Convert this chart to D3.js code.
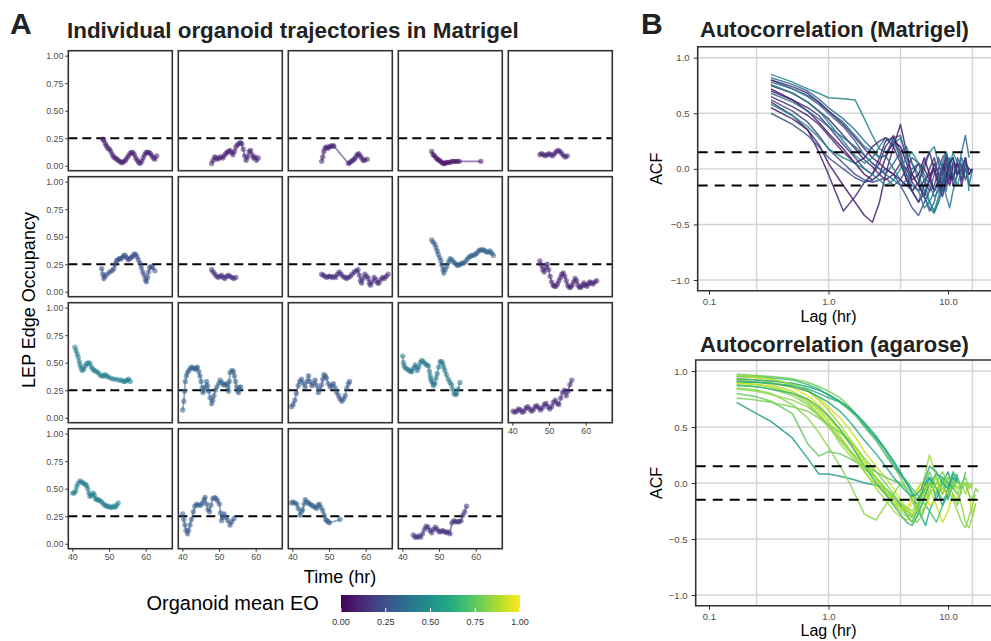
<!DOCTYPE html>
<html>
<head>
<meta charset="utf-8">
<script src="https://cdn.jsdelivr.net/npm/d3@7"></script>
<style>
  body { margin: 0; background: #fff; }
  svg { display: block; }
</style>
</head>
<body>
<svg id="chart" width="991" height="641"></svg>
<script>
// ---- panel A data: edge occupancy per organoid, [time (hr), EO]
const org01 = [[48.3,.24],[48.6,.23],[49.0,.20],[49.3,.18],[49.7,.16],[50.1,.15],[50.5,.13],[50.9,.10],[51.3,.08],[51.7,.07],[52.1,.06],[52.5,.05],[52.9,.04],[53.3,.03],[53.7,.03],[54.1,.04],[54.5,.05],[54.9,.07],[55.3,.09],[55.7,.11],[56.1,.12],[56.5,.12],[56.9,.10],[57.3,.07],[57.7,.05],[58.1,.03],[58.5,.02],[58.9,.04],[59.3,.07],[59.7,.10],[60.1,.12],[60.5,.12],[60.9,.12],[61.3,.11],[61.7,.09],[62.1,.07],[62.5,.06],[63.0,.09]]
const org02 = [[48.0,.02],[48.4,.05],[48.8,.08],[49.2,.07],[49.6,.06],[50.0,.07],[50.5,.08],[51.0,.07],[51.4,.09],[51.8,.11],[52.2,.12],[52.6,.13],[53.0,.14],[53.4,.12],[53.8,.10],[54.2,.13],[54.6,.17],[55.0,.19],[55.4,.20],[55.8,.21],[56.2,.20],[56.6,.15],[57.0,.09],[57.4,.05],[57.8,.08],[58.2,.13],[58.6,.14],[59.0,.10],[59.4,.07],[59.8,.08],[60.2,.05],[60.7,.07]]
const org03 = [[48.0,.04],[48.3,.08],[48.6,.13],[48.9,.16],[49.3,.17],[49.7,.16],[50.1,.17],[50.5,.18],[51.0,.18],[51.3,.18],[55.3,.02],[55.7,.03],[56.1,.04],[56.5,.05],[56.9,.06],[57.3,.08],[57.7,.10],[58.1,.11],[58.5,.09],[58.9,.07],[59.3,.05],[59.7,.05],[60.4,.06]]
const org04 = [[48.0,.13],[48.4,.10],[48.8,.09],[49.2,.07],[49.6,.06],[50.0,.05],[50.4,.04],[50.8,.03],[51.2,.02],[51.6,.02],[52.0,.03],[52.5,.03],[53.0,.03],[53.5,.04],[54.0,.04],[54.5,.04],[55.0,.04],[55.5,.04],[61.4,.04]]
const org05 = [[47.5,.10],[48.0,.11],[48.5,.10],[49.0,.09],[49.5,.10],[50.0,.11],[50.5,.10],[51.0,.09],[51.5,.11],[52.0,.13],[52.5,.14],[53.0,.13],[53.5,.11],[54.0,.09],[54.5,.08],[55.0,.09]]
const org06 = [[48.0,.21],[48.3,.16],[48.6,.12],[48.9,.14],[49.5,.16],[50.2,.18],[50.8,.19],[51.3,.21],[51.7,.25],[52.0,.28],[52.4,.29],[52.8,.30],[53.2,.30],[53.6,.31],[54.0,.33],[54.4,.33],[54.8,.31],[55.2,.29],[55.6,.30],[56.0,.31],[56.4,.32],[56.8,.34],[57.2,.34],[57.6,.32],[58.0,.29],[58.4,.26],[58.8,.22],[59.2,.18],[59.6,.15],[59.9,.11],[60.2,.09],[60.5,.13],[60.8,.18],[61.1,.22],[61.5,.23],[61.9,.22],[62.5,.19]]
const org07 = [[48.0,.20],[48.4,.18],[48.9,.16],[49.3,.14],[49.8,.13],[50.3,.14],[50.7,.15],[51.2,.13],[51.6,.12],[52.1,.14],[52.5,.15],[53.0,.14],[53.5,.13],[54.0,.12],[54.6,.13]]
const org08 = [[48.0,.16],[48.4,.15],[48.9,.14],[49.4,.13],[49.9,.14],[50.3,.14],[50.8,.13],[51.3,.14],[51.8,.13],[52.3,.16],[52.8,.18],[53.3,.16],[53.8,.14],[54.3,.13],[54.8,.12],[55.3,.13],[55.8,.14],[56.3,.16],[56.9,.18],[57.4,.19],[57.9,.20],[58.3,.15],[58.6,.10],[58.9,.08],[59.3,.12],[59.8,.16],[60.3,.14],[60.7,.12],[61.0,.08],[61.3,.06],[61.8,.09],[62.3,.13],[62.8,.11],[63.2,.08],[63.6,.08],[64.1,.11],[64.6,.13],[65.1,.12],[65.6,.14],[66.1,.16]]
const org09 = [[48.0,.47],[48.4,.45],[48.9,.43],[49.2,.40],[49.5,.37],[49.8,.34],[50.2,.31],[50.5,.28],[50.8,.24],[51.1,.20],[51.3,.17],[51.7,.20],[52.1,.23],[52.6,.27],[53.0,.30],[53.5,.29],[53.9,.27],[54.4,.26],[54.9,.24],[55.3,.24],[55.8,.25],[56.2,.26],[56.7,.26],[57.1,.27],[57.6,.29],[58.0,.31],[58.5,.32],[58.9,.33],[59.4,.33],[59.9,.34],[60.3,.35],[60.8,.37],[61.2,.38],[61.7,.38],[62.1,.38],[62.6,.37],[63.0,.36],[63.5,.36],[63.9,.37],[64.4,.35],[64.8,.33]]
const org10 = [[47.5,.28],[47.9,.24],[48.3,.20],[48.7,.18],[49.1,.22],[49.5,.25],[49.9,.20],[50.3,.14],[50.7,.09],[51.1,.06],[51.5,.05],[51.9,.05],[52.3,.07],[52.7,.10],[53.1,.13],[53.5,.16],[53.9,.17],[54.3,.14],[54.7,.10],[55.1,.06],[55.5,.04],[55.9,.04],[56.3,.06],[56.7,.09],[57.1,.12],[57.5,.10],[57.9,.06],[58.3,.04],[58.7,.04],[59.1,.06],[59.5,.08],[59.9,.06],[60.3,.05],[60.7,.07],[61.1,.09],[61.5,.08],[62.0,.07],[62.5,.09],[63.0,.10]]
const org11 = [[40.7,.64],[41.0,.61],[41.3,.58],[41.6,.55],[41.9,.51],[42.1,.48],[42.4,.45],[42.7,.43],[43.1,.44],[43.5,.47],[43.9,.49],[44.4,.50],[44.8,.49],[45.2,.46],[45.6,.44],[46.0,.43],[46.5,.42],[47.0,.41],[47.5,.39],[48.0,.38],[48.5,.38],[48.9,.39],[49.3,.38],[49.8,.37],[50.5,.36],[51.2,.35],[52.0,.35],[52.8,.34],[53.5,.34],[54.0,.33],[54.4,.33],[54.9,.34],[55.3,.35],[55.8,.33]]
const org12 = [[40.1,.07],[40.4,.15],[40.6,.24],[40.8,.33],[41.1,.38],[41.4,.41],[41.8,.43],[42.2,.45],[42.6,.46],[43.0,.45],[43.5,.44],[43.8,.45],[44.1,.46],[44.5,.42],[44.8,.38],[45.1,.33],[45.4,.27],[45.6,.23],[45.9,.25],[46.2,.28],[46.6,.33],[46.9,.29],[47.2,.24],[47.6,.18],[48.0,.13],[48.3,.16],[48.6,.20],[49.0,.25],[49.4,.28],[49.9,.31],[50.3,.34],[50.8,.32],[51.2,.30],[51.6,.30],[52.1,.31],[52.4,.28],[52.6,.24],[52.8,.33],[53.0,.41],[53.5,.43],[53.9,.42],[54.2,.38],[54.5,.33],[54.8,.28],[55.1,.25],[55.3,.23],[55.6,.27],[55.9,.28]]
const org13 = [[39.8,.10],[40.2,.12],[40.7,.16],[41.1,.22],[41.6,.29],[42.0,.33],[42.5,.35],[43.0,.31],[43.5,.28],[44.0,.33],[44.4,.38],[44.8,.33],[45.3,.29],[45.8,.31],[46.2,.34],[46.7,.29],[47.1,.23],[47.5,.26],[48.0,.30],[48.3,.35],[48.6,.39],[49.0,.38],[49.3,.36],[49.8,.31],[50.3,.28],[50.8,.29],[51.2,.31],[51.7,.27],[52.1,.23],[52.6,.20],[53.0,.17],[53.5,.15],[54.0,.17],[54.4,.20],[54.9,.27],[55.3,.31],[55.6,.33]]
const org14 = [[40.1,.56],[40.3,.50],[40.5,.47],[40.9,.45],[41.4,.44],[41.9,.43],[42.3,.42],[42.6,.42],[43.0,.45],[43.5,.48],[43.8,.46],[44.1,.43],[44.5,.46],[44.9,.50],[45.3,.52],[45.7,.51],[46.2,.49],[46.7,.48],[47.1,.47],[47.4,.42],[47.6,.38],[47.8,.35],[48.0,.33],[48.3,.31],[48.5,.29],[48.9,.31],[49.2,.36],[49.5,.40],[49.9,.46],[50.3,.51],[50.7,.51],[51.0,.49],[51.3,.46],[51.6,.43],[52.0,.39],[52.5,.35],[53.0,.32],[53.4,.30],[53.7,.26],[54.1,.22],[54.5,.21],[54.8,.22],[55.2,.26],[55.7,.32]]
const org15 = [[40.2,.06],[40.7,.05],[41.2,.06],[41.7,.08],[42.2,.07],[42.7,.05],[43.2,.06],[43.7,.09],[44.2,.10],[44.7,.08],[45.2,.06],[45.7,.07],[46.2,.10],[46.7,.11],[47.2,.09],[47.7,.07],[48.2,.09],[48.7,.12],[49.2,.13],[49.7,.10],[50.2,.08],[50.7,.10],[51.2,.14],[51.7,.16],[52.2,.13],[52.7,.12],[53.2,.18],[53.7,.23],[54.2,.25],[54.7,.20],[55.2,.24],[55.7,.30],[56.2,.34]]
const org16 = [[40.1,.46],[40.5,.46],[40.9,.48],[41.2,.52],[41.6,.55],[42.1,.57],[42.6,.56],[43.0,.55],[43.5,.54],[43.9,.53],[44.2,.50],[44.5,.46],[44.8,.43],[45.2,.44],[45.7,.46],[46.0,.44],[46.3,.41],[46.7,.40],[47.1,.40],[47.5,.39],[48.0,.38],[48.5,.36],[48.9,.35],[49.4,.34],[49.8,.34],[50.3,.33],[50.8,.33],[51.2,.34],[51.7,.33],[52.1,.35],[52.5,.37]]
const org17 = [[40.1,.27],[40.4,.22],[40.7,.17],[41.0,.12],[41.4,.09],[41.7,.12],[42.1,.17],[42.5,.22],[43.0,.29],[43.4,.34],[43.9,.36],[44.4,.35],[45.0,.35],[45.5,.37],[45.9,.40],[46.2,.42],[46.6,.36],[47.0,.31],[47.4,.29],[47.8,.35],[48.3,.41],[48.8,.42],[49.2,.41],[49.6,.39],[50.1,.36],[50.4,.28],[50.7,.21],[51.0,.24],[51.4,.27],[51.9,.24],[52.4,.21],[53.0,.17],[53.5,.20],[54.1,.23]]
const org18 = [[39.8,.37],[40.2,.38],[40.7,.37],[41.2,.36],[41.6,.32],[42.1,.26],[42.5,.29],[42.8,.31],[43.2,.36],[43.5,.40],[44.0,.38],[44.4,.37],[44.8,.36],[45.3,.35],[45.7,.34],[46.2,.33],[46.6,.32],[47.0,.35],[47.4,.36],[47.8,.33],[48.3,.30],[48.7,.26],[49.1,.22],[49.4,.21],[49.8,.20],[50.1,.19],[53.0,.22]]
const org19 = [[43.0,.08],[43.5,.06],[44.0,.06],[44.5,.07],[45.0,.06],[45.5,.09],[46.0,.13],[46.5,.16],[47.0,.15],[47.5,.12],[48.0,.10],[48.5,.13],[49.0,.15],[49.5,.13],[50.0,.11],[50.5,.11],[51.0,.12],[51.5,.11],[52.0,.10],[52.5,.11],[53.0,.09],[53.5,.19],[54.0,.21],[54.5,.20],[55.0,.20],[55.5,.20],[56.0,.21],[56.5,.26],[57.0,.29],[57.5,.34]]
const trajectories = [org01, org02, org03, org04, org05, org06, org07, org08, org09, org10,
  org11, org12, org13, org14, org15, org16, org17, org18, org19]

const eoTicks = [0, 0.25, 0.5, 0.75, 1]
const timeTicks = [40, 50, 60]
const eoThreshold = 0.25

// ---- panel B data: autocorrelation per organoid
const lagsMatrigel = [0.33,0.5,0.67,0.83,1.0,1.33,1.67,2.0,2.33,2.67,3.0,3.5,4.0,4.5,5.0,5.67,6.33,7.0,7.67,8.33,9.0,9.67,10.33,11,12,13,14,15,16]
const acfMatrigel = [
  [0.85,0.78,0.72,0.68,0.64,0.63,0.62,0.45,0.30,0.18,0.15,0.22,0.28,0.10,0.05,-0.05,-0.20,-0.30,-0.38,-0.25,-0.10,-0.20,0.00,-0.05],
  [0.82,0.76,0.70,0.63,0.55,0.45,0.35,0.25,0.18,0.10,0.12,0.28,0.30,0.10,-0.05,-0.15,-0.25,-0.35,-0.40,-0.30,-0.15,-0.05,0.05,0.10,-0.05,0.15,0.30,0.10],
  [0.75,0.68,0.60,0.52,0.45,0.30,0.18,0.08,0.02,-0.05,-0.10,-0.05,0.05,0.00,-0.12,-0.20,-0.10,-0.05,0.00,-0.10,-0.20,-0.05,0.08,-0.10,0.05,-0.15,0.00,-0.05,0.00],
  [0.55,0.45,0.35,0.22,0.05,-0.15,-0.30,-0.42,-0.48,-0.30,-0.05,0.20,0.40,0.15,-0.05,-0.15,-0.25,-0.10,0.05,-0.05,-0.15,0.05,-0.10,0.02],
  [0.60,0.48,0.35,0.15,-0.05,-0.38,-0.25,-0.12,-0.05,0.10,0.25,0.28,0.10,-0.10,-0.20,-0.30,-0.22,-0.10,0.00,-0.15,-0.05,0.10,-0.10,0.05],
  [0.78,0.72,0.65,0.58,0.50,0.38,0.25,0.12,0.05,0.00,-0.05,0.05,0.15,0.20,0.05,-0.10,-0.25,-0.38,-0.30,-0.15,-0.05,0.10,0.00,-0.10,0.05,-0.05,0.10,-0.15,0.00],
  [0.70,0.62,0.55,0.48,0.38,0.22,0.10,0.00,-0.05,0.05,0.20,0.30,0.15,-0.05,-0.20,-0.30,-0.15,0.00,0.10,-0.05,-0.20,-0.10,0.05,-0.15,-0.05],
  [0.80,0.72,0.66,0.60,0.52,0.42,0.30,0.20,0.15,0.10,0.12,0.00,-0.10,-0.15,-0.20,-0.12,0.00,0.15,0.20,0.05,-0.10,-0.25,-0.35,-0.20,-0.05,0.05,-0.10,0.00],
  [0.62,0.52,0.42,0.30,0.18,0.05,-0.05,-0.10,-0.12,-0.10,-0.08,-0.15,-0.10,0.00,0.10,0.05,-0.10,-0.20,-0.15,0.00,0.10,0.15,0.00,-0.10,0.10,0.00,-0.08],
  [0.72,0.62,0.52,0.42,0.32,0.18,0.05,-0.05,-0.10,-0.05,0.10,0.25,0.20,0.05,-0.10,-0.05,0.10,-0.05,-0.20,-0.10,0.05,-0.05,-0.15,0.00],
  [0.58,0.48,0.38,0.28,0.18,0.10,0.05,0.00,-0.05,-0.10,-0.15,-0.10,0.00,0.10,0.15,0.05,-0.10,-0.30,-0.38,-0.30,-0.20,-0.10,0.00,0.15,0.05,-0.10],
  [0.50,0.40,0.30,0.20,0.10,0.00,-0.08,-0.12,-0.10,-0.05,0.00,-0.05,-0.15,-0.25,-0.35,-0.42,-0.30,-0.20,-0.05,0.10,0.00,-0.15,-0.05,0.05,-0.05],
  [0.80,0.74,0.68,0.60,0.52,0.40,0.28,0.18,0.10,0.05,0.00,-0.05,-0.10,-0.15,-0.05,0.05,0.00,-0.10,-0.20,-0.12,0.00,0.12,0.05,-0.08,0.05,-0.10,0.05,0.00,-0.02],
  [0.68,0.60,0.52,0.45,0.38,0.28,0.20,0.12,0.05,0.00,-0.05,-0.10,-0.15,-0.10,0.00,0.05,-0.05,-0.15,-0.25,-0.20,-0.10,0.00,0.10,0.05,-0.05,0.10,0.00,-0.15],
  [0.76,0.68,0.60,0.52,0.42,0.25,0.12,0.05,0.10,0.20,0.28,0.25,0.10,-0.05,-0.15,-0.20,-0.35,-0.30,-0.20,-0.10,0.05,0.15,0.05,-0.05,-0.15,0.00,0.10,-0.20],
  [0.65,0.56,0.48,0.40,0.30,0.15,0.05,0.10,0.20,0.25,0.28,0.20,0.05,-0.10,-0.20,-0.12,0.05,0.15,0.00,-0.15,-0.25,-0.10,0.05,0.10,-0.05,0.00,0.10,-0.05,0.00]
]
const eoMatrigel = [0.45, 0.35, 0.12, 0.08, 0.10, 0.30, 0.15, 0.40, 0.20, 0.05, 0.50, 0.25, 0.10, 0.35, 0.45, 0.12]

const lagsAgarose = [0.17,0.25,0.33,0.5,0.67,0.83,1.0,1.25,1.5,1.75,2.0,2.5,3.0,3.5,4.0,4.5,5.0,5.5,6.0,6.5,7.0,8.0,9.0,10,11,12,13,14,15,16,17,18]
const acfAgarose = [
  [0.72,0.62,0.55,0.40,0.22,0.08,0.08,0.06,0.04,0.02,0.00,-0.02,-0.05,-0.12,-0.20,-0.28,-0.35,-0.25,-0.10,-0.05,0.05,-0.15,0.00,0.10,-0.05,0.08],
  [0.97,0.96,0.95,0.93,0.90,0.86,0.82,0.76,0.68,0.60,0.52,0.40,0.28,0.15,0.05,-0.05,-0.15,-0.25,-0.30,-0.20,-0.05,0.05,-0.10,0.00,-0.05,0.05,-0.10],
  [0.95,0.94,0.92,0.88,0.83,0.76,0.68,0.58,0.48,0.38,0.28,0.15,0.05,-0.05,-0.15,-0.22,-0.28,-0.22,-0.10,0.00,-0.05,-0.20,-0.35,-0.25,-0.10,-0.15,-0.05,0.00,-0.10,-0.30,-0.20],
  [0.90,0.90,0.89,0.87,0.84,0.80,0.76,0.72,0.66,0.60,0.52,0.40,0.30,0.20,0.10,0.00,-0.10,-0.20,-0.30,-0.38,-0.25,-0.10,0.05,-0.15,0.00,0.05],
  [0.93,0.92,0.90,0.85,0.78,0.70,0.60,0.48,0.38,0.28,0.18,0.05,-0.08,-0.18,-0.25,-0.22,-0.15,-0.05,0.00,-0.10,-0.20,-0.15],
  [0.88,0.86,0.84,0.78,0.70,0.60,0.50,0.38,0.28,0.20,0.12,0.05,-0.05,-0.15,-0.22,-0.28,-0.30,-0.25,-0.15,-0.05,0.00,-0.10,-0.05,0.05,-0.05,-0.10,0.00,0.05,-0.05,0.00],
  [0.80,0.77,0.73,0.62,0.35,0.24,0.28,0.26,0.22,0.18,0.15,0.10,0.05,0.02,0.00,-0.05,-0.15,-0.20,-0.10,0.00,0.10,-0.05,-0.15,-0.10,0.00,-0.05],
  [0.95,0.95,0.94,0.92,0.88,0.84,0.78,0.72,0.65,0.58,0.50,0.38,0.25,0.15,0.08,0.02,-0.05,-0.10,-0.15,-0.20,-0.25,-0.35,-0.20,-0.05,0.10,0.05,-0.05,0.10],
  [0.92,0.90,0.88,0.82,0.74,0.65,0.55,0.42,0.30,0.20,0.10,-0.02,-0.10,-0.18,-0.22,-0.25,-0.28,-0.30,-0.20,-0.10,0.00,0.05,-0.10,0.00],
  [0.85,0.83,0.80,0.70,0.58,0.45,0.32,0.15,0.00,-0.15,-0.28,-0.33,-0.20,-0.10,0.00,-0.05,-0.15,-0.25,-0.20,-0.10,0.00,-0.10,0.05,-0.05,-0.15,-0.25,-0.35,-0.40,-0.30,-0.20,-0.10],
  [0.90,0.88,0.86,0.80,0.72,0.62,0.52,0.35,0.25,0.18,0.10,-0.05,-0.15,-0.25,-0.30,-0.33,-0.30,-0.20,-0.05,0.10,0.25,0.05,-0.10,0.00,0.05,-0.05,0.00,-0.10,0.00,-0.05],
  [0.93,0.92,0.91,0.89,0.86,0.83,0.79,0.73,0.67,0.60,0.54,0.42,0.30,0.18,0.08,0.00,-0.08,-0.15,-0.10,0.00,0.05,-0.05,-0.20,-0.10,0.05,0.00],
  [0.89,0.88,0.86,0.80,0.74,0.66,0.58,0.46,0.35,0.25,0.15,0.02,-0.08,-0.15,-0.22,-0.25,-0.18,-0.08,0.00,-0.05,-0.15],
  [0.76,0.74,0.72,0.68,0.64,0.58,0.52,0.45,0.38,0.30,0.22,0.10,0.00,-0.10,-0.18,-0.25,-0.30,-0.35,-0.30,-0.20,-0.10,0.00,0.10,0.00,-0.10,-0.20,-0.05,0.00,-0.10,-0.15,-0.05,-0.08],
  [0.96,0.95,0.93,0.88,0.82,0.74,0.65,0.52,0.40,0.30,0.20,0.05,-0.08,-0.18,-0.25,-0.30,-0.35,-0.30,-0.25,-0.20,-0.10,0.00,-0.05,-0.10,0.00],
  [0.87,0.86,0.84,0.80,0.75,0.68,0.60,0.48,0.36,0.25,0.15,0.00,-0.10,-0.20,-0.28,-0.35,-0.38,-0.30,-0.20,-0.10,0.00,0.08,0.05,0.00,-0.05],
  [0.84,0.82,0.79,0.74,0.68,0.60,0.52,0.40,0.30,0.22,0.15,0.05,-0.05,-0.12,-0.18,-0.22,-0.25,-0.20,-0.12,-0.05,0.00,-0.05,0.00,0.05,-0.02,-0.10,-0.20,-0.35,-0.40,-0.30,-0.18],
  [0.91,0.90,0.89,0.86,0.82,0.77,0.72,0.64,0.55,0.46,0.38,0.26,0.15,0.05,-0.02,-0.08,-0.12,-0.10,-0.05,0.05,0.15,0.10,0.00,-0.05,0.08,0.02]
]
const eoAgarose = [0.55, 0.78, 0.92, 0.62, 0.95, 0.80, 0.75, 0.70, 0.88, 0.82, 0.85, 0.58, 0.90, 0.80, 0.86, 0.66, 0.83, 0.60]

const acfTicks = [-1, -0.5, 0, 0.5, 1]
const lagTicks = [0.1, 1, 10]
const lagGrid = [0.25, 1, 4, 16]
const acfBound = 0.15
const colourTicks = [0, 0.25, 0.5, 0.75, 1]

// ---- drawing
const svg = d3.select("#chart")
  .attr("font-family", "'Liberation Sans', Arial, Helvetica, sans-serif")
const viridis = d3.scaleSequential(d3.interpolateViridis).domain([0, 1])
const ink = "#333333"
const tickInk = "#4d4d4d"

const styleAxis = (g, size) => {
  g.select(".domain").remove()
  g.selectAll(".tick line").attr("stroke", ink).attr("stroke-width", 1)
  g.selectAll(".tick text").attr("fill", tickInk).attr("font-size", size)
}

// panel letters and titles
svg.append("text").attr("x", 10).attr("y", 34).attr("font-size", 30).attr("font-weight", 700).attr("fill", "#222").text("A")
svg.append("text").attr("x", 641).attr("y", 34).attr("font-size", 30).attr("font-weight", 700).attr("fill", "#222").text("B")
svg.append("text").attr("x", 67).attr("y", 38).attr("font-size", 22.4).attr("font-weight", 700).attr("fill", "#222")
  .text("Individual organoid trajectories in Matrigel")

// facets
const facetLeft = 68.3, facetTop = 50.7, facetW = 104, facetH = 120, facetGap = 6, nCols = 5
const tx = d3.scaleLinear().domain([38.9, 67.25]).range([0, facetW])
const ty = d3.scaleLinear().domain([-0.045, 1.045]).range([facetH, 0])
const trajLine = d3.line().x(d => tx(d[0])).y(d => ty(d[1]))

trajectories.forEach((traj, i) => {
  const row = Math.floor(i / nCols), col = i % nCols
  const g = svg.append("g")
    .attr("transform", `translate(${facetLeft + col * (facetW + facetGap)},${facetTop + row * (facetH + facetGap)})`)
  const colour = viridis(d3.mean(traj, d => d[1]))

  g.append("line")
    .attr("x1", 0).attr("x2", facetW)
    .attr("y1", ty(eoThreshold)).attr("y2", ty(eoThreshold))
    .attr("stroke", "#000").attr("stroke-width", 2).attr("stroke-dasharray", "9,5")

  g.append("path").datum(traj)
    .attr("d", trajLine)
    .attr("fill", "none").attr("stroke", colour).attr("stroke-width", 1.8).attr("stroke-opacity", 0.55)

  g.append("g").selectAll("circle").data(traj).join("circle")
    .attr("cx", d => tx(d[0])).attr("cy", d => ty(d[1])).attr("r", 2.7)
    .attr("fill", colour).attr("fill-opacity", 0.55)

  g.append("rect").attr("width", facetW).attr("height", facetH)
    .attr("fill", "none").attr("stroke", ink).attr("stroke-width", 1.6)

  if (col === 0) {
    g.append("g")
      .call(d3.axisLeft(ty).tickValues(eoTicks).tickFormat(d3.format(".2f")).tickSize(3).tickPadding(2))
      .call(a => styleAxis(a, 8.8))
  }
  if (i + nCols >= trajectories.length) {
    g.append("g").attr("transform", `translate(0,${facetH})`)
      .call(d3.axisBottom(tx).tickValues(timeTicks).tickSize(3).tickPadding(2))
      .call(a => styleAxis(a, 8.8))
  }
})

svg.append("text")
  .attr("transform", "translate(28.5,300) rotate(-90)")
  .attr("text-anchor", "middle").attr("dy", "0.35em").attr("font-size", 18).text("LEP Edge Occupancy")
svg.append("text").attr("x", 340).attr("y", 583).attr("text-anchor", "middle").attr("font-size", 18).text("Time (hr)")

// colour bar
const cbx = d3.scaleLinear().domain([0, 1]).range([341, 520])
const grad = svg.append("defs").append("linearGradient").attr("id", "eoGrad")
d3.range(0, 1.001, 0.1).forEach(t => {
  grad.append("stop").attr("offset", `${t * 100}%`).attr("stop-color", viridis(t))
})
svg.append("rect").attr("x", cbx(0)).attr("y", 595).attr("width", cbx(1) - cbx(0)).attr("height", 17)
  .attr("fill", "url(#eoGrad)")
svg.append("g").selectAll("line").data(colourTicks).join("line")
  .attr("x1", d => cbx(d)).attr("x2", d => cbx(d)).attr("y1", 608).attr("y2", 612)
  .attr("stroke", "#fff").attr("stroke-width", 1)
svg.append("g").selectAll("text").data(colourTicks).join("text")
  .attr("x", d => cbx(d)).attr("y", 625).attr("text-anchor", "middle")
  .attr("font-size", 9).attr("fill", ink).text(d3.format(".2f"))
svg.append("text").attr("x", 146.5).attr("y", 610).attr("font-size", 20).text("Organoid mean EO")

// ACF panels
function acfPanel(frame, title, lags, series, eos) {
  const x = d3.scaleLog().domain([0.1, 10]).range([709, 948])
  const y = d3.scaleLinear().domain([-1, 1]).range([frame.yLow, frame.yHigh])
  const right = 1000
  const clipId = "clip" + frame.top
  svg.append("clipPath").attr("id", clipId).append("rect")
    .attr("x", frame.left).attr("y", frame.top).attr("width", right - frame.left).attr("height", frame.bottom - frame.top)

  const g = svg.append("g")
  const body = g.append("g").attr("clip-path", `url(#${clipId})`)

  body.append("g").selectAll("line").data(acfTicks).join("line")
    .attr("x1", frame.left).attr("x2", right).attr("y1", d => y(d)).attr("y2", d => y(d))
    .attr("stroke", "#d3d3d3").attr("stroke-width", 1.4)
  body.append("g").selectAll("line").data(lagGrid).join("line")
    .attr("x1", d => x(d)).attr("x2", d => x(d)).attr("y1", frame.top).attr("y2", frame.bottom)
    .attr("stroke", "#d3d3d3").attr("stroke-width", 1.4)

  const acfLine = d3.line().x((d, k) => x(lags[k])).y(d => y(d))
  body.append("g").selectAll("path").data(series).join("path")
    .attr("d", acfLine)
    .attr("fill", "none").attr("stroke", (d, k) => viridis(eos[k]))
    .attr("stroke-width", 1.5).attr("stroke-opacity", 0.85).attr("stroke-linejoin", "round")

  body.append("g").selectAll("line").data([acfBound, -acfBound]).join("line")
    .attr("x1", frame.left).attr("x2", 984).attr("y1", d => y(d)).attr("y2", d => y(d))
    .attr("stroke", "#000").attr("stroke-width", 2).attr("stroke-dasharray", "10,7")

  g.append("path")
    .attr("d", `M${right},${frame.top}H${frame.left}V${frame.bottom}H${right}`)
    .attr("fill", "none").attr("stroke", ink).attr("stroke-width", 1.6)

  g.append("g").attr("transform", `translate(${frame.left},0)`)
    .call(d3.axisLeft(y).tickValues(acfTicks).tickFormat(d3.format(".1f")).tickSize(4).tickPadding(4))
    .call(a => styleAxis(a, 9.6))
  g.append("g").attr("transform", `translate(0,${frame.bottom})`)
    .call(d3.axisBottom(x).tickValues(lagTicks).tickFormat(d => d.toFixed(1)).tickSize(4).tickPadding(3))
    .call(a => styleAxis(a, 9.6))

  g.append("text").attr("x", 700).attr("y", frame.titleY).attr("font-size", 22).attr("font-weight", 700)
    .attr("fill", "#222").text(title)
  g.append("text")
    .attr("transform", `translate(656.5,${y(0)}) rotate(-90)`)
    .attr("text-anchor", "middle").attr("dy", "0.35em").attr("font-size", 16).text("ACF")
  g.append("text").attr("x", x(1)).attr("y", frame.labelY).attr("text-anchor", "middle")
    .attr("font-size", 16).text("Lag (hr)")
}

acfPanel({ left: 697.7, top: 46.7, bottom: 290.7, yHigh: 57.7, yLow: 280, titleY: 37, labelY: 322 },
  "Autocorrelation (Matrigel)", lagsMatrigel, acfMatrigel, eoMatrigel)
acfPanel({ left: 695.7, top: 360, bottom: 605.7, yHigh: 371, yLow: 595, titleY: 351.5, labelY: 636 },
  "Autocorrelation (agarose)", lagsAgarose, acfAgarose, eoAgarose)
</script>
</body>
</html>
